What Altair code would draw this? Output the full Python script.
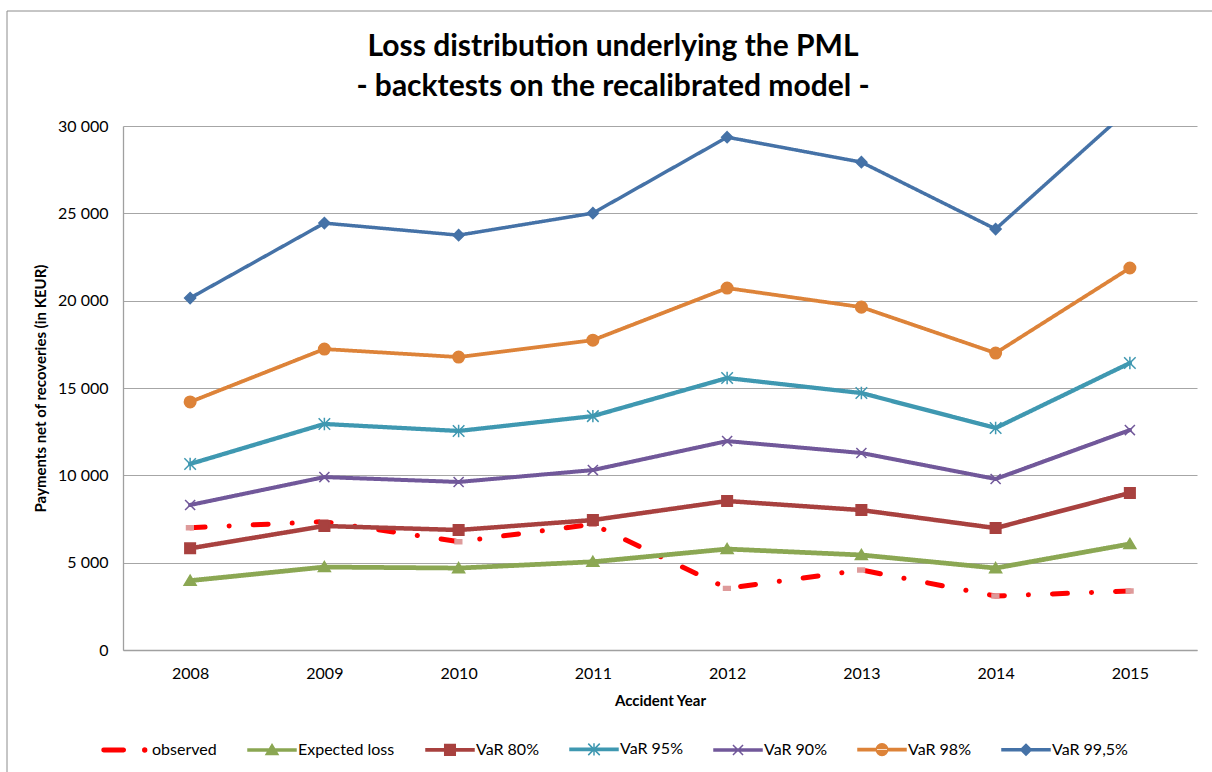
import altair as alt
import pandas as pd

# Accident years and the simulated loss quantiles per year (KEUR)
years = [2008, 2009, 2010, 2011, 2012, 2013, 2014, 2015]
observed = [7000, 7350, 6200, 7200, 3530, 4580, 3090, 3380]
expected_loss = [3970, 4750, 4690, 5050, 5780, 5440, 4690, 6070]
var_80 = [5820, 7100, 6870, 7440, 8530, 8010, 6980, 8990]
var_95 = [10650, 12940, 12540, 13390, 15570, 14710, 12710, 16430]
var_90 = [8300, 9900, 9620, 10300, 11960, 11280, 9790, 12590]
var_98 = [14200, 17230, 16770, 17740, 20720, 19630, 17000, 21870]
var_995 = [20150, 24440, 23750, 25010, 29360, 27930, 24100, 31000]

series_names = ["observed", "Expected loss", "VaR 80%", "VaR 95%",
                "VaR 90%", "VaR 98%", "VaR 99,5%"]
series_values = [observed, expected_loss, var_80, var_95, var_90, var_98, var_995]

line_colors = ["#FF0000", "#8BA753", "#A8413F", "#3F98B1", "#71589A", "#DD8339", "#4572A7"]
marker_fills = ["#DE9B9B", "#8BA753", "#A8413F", "#3F98B1", "#71589A", "#DD8339", "#4572A7"]
line_widths = [5, 3.5, 3.5, 3.5, 3.5, 3.5, 3.5]
dash_patterns = [[15, 24, 0.1, 24], [1, 0], [1, 0], [1, 0], [1, 0], [1, 0], [1, 0]]

# Marker outlines in the unit box [-1, 1]; at size 2304 the box is 48 px wide.
SYMBOL = 2304
markers = [
    "M-0.15,-0.08H0.13V0.08H-0.15Z",
    "M0,-0.23L0.25,0.19H-0.25Z",
    "M-0.22,-0.22H0.22V0.22H-0.22Z",
    "M-0.24,-0.24L0.24,0.24M-0.24,0.24L0.24,-0.24M0,-0.26V0.26",
    "M-0.21,-0.21L0.21,0.21M-0.21,0.21L0.21,-0.21",
    "M-0.24,0A0.24,0.24 0 1,0 0.24,0A0.24,0.24 0 1,0 -0.24,0Z",
    "M0,-0.23L0.23,0L0,0.23L-0.23,0Z",
]

# Legend swatches: a line segment across the whole box with the marker on top.
# The observed series is shown as its dash followed by a dot.
SEGMENT = "M-1,-0.045H1V0.045H-1Z"
legend_paths = [
    "M-0.93,-0.07H-0.1A0.07,0.07 0 0,1 -0.1,0.07H-0.93A0.07,0.07 0 0,1 -0.93,-0.07Z"
    "M0.7,0A0.08,0.08 0 1,0 0.86,0A0.08,0.08 0 1,0 0.7,0Z"
    "M-1,0M1,0",
] + [SEGMENT + m for m in markers[1:]]

rows = []
for name, vals in zip(series_names, series_values):
    for yr, v in zip(years, vals):
        rows.append({"year": yr, "value": v, "series": name})
df = pd.DataFrame(rows)
legend_df = pd.DataFrame({"key": series_names})

FONT = "Lato"

x_enc = alt.X(
    "year:O",
    scale=alt.Scale(type="point", padding=0.5),
    axis=alt.Axis(title="Accident Year", labelAngle=0, ticks=False,
                  labelPadding=15, titlePadding=12, grid=False),
)
y_enc = alt.Y(
    "value:Q",
    scale=alt.Scale(domain=[0, 30000], nice=False, zero=True),
    axis=alt.Axis(title="Payments net of recoveries (in KEUR)",
                  values=[0, 5000, 10000, 15000, 20000, 25000, 30000],
                  labelExpr="replace(format(datum.value, ','), ',', ' ')",
                  ticks=False, labelPadding=15, titlePadding=9, grid=True),
)

base = alt.Chart(df)

lines = base.mark_line(clip=True, strokeCap="round", strokeJoin="round").encode(
    x=x_enc,
    y=y_enc,
    color=alt.Color("series:N", scale=alt.Scale(domain=series_names, range=line_colors),
                    legend=None),
    strokeDash=alt.StrokeDash("series:N",
                              scale=alt.Scale(domain=series_names, range=dash_patterns),
                              legend=None),
    strokeWidth=alt.StrokeWidth("series:N",
                                scale=alt.Scale(domain=series_names, range=line_widths),
                                legend=None),
)

points = base.mark_point(filled=True, size=SYMBOL, strokeWidth=1.5, opacity=1, clip=True).encode(
    x=x_enc,
    y=y_enc,
    shape=alt.Shape("series:N", scale=alt.Scale(domain=series_names, range=markers),
                    legend=None),
    fill=alt.Fill("series:N", scale=alt.Scale(domain=series_names, range=marker_fills),
                  legend=None),
    stroke=alt.Stroke("series:N", scale=alt.Scale(domain=series_names, range=marker_fills),
                      legend=None),
)

# legend: one entry per series, line swatch with its marker
key_legend = alt.Legend(
    orient="none", legendX=-22, legendY=598, direction="horizontal", title=None,
    symbolSize=SYMBOL, symbolStrokeWidth=1.5, symbolOpacity=1,
    labelFont=FONT, labelFontSize=16, labelColor="#000000",
    labelOffset=1, columnPadding=28,
)
legend_colors = ["#FF0000"] + line_colors[1:]
legend_layer = alt.Chart(legend_df).mark_point(filled=True, opacity=0, size=SYMBOL).encode(
    shape=alt.Shape("key:N", sort=series_names,
                    scale=alt.Scale(domain=series_names, range=legend_paths),
                    legend=key_legend),
    fill=alt.Fill("key:N", sort=series_names,
                  scale=alt.Scale(domain=series_names, range=legend_colors),
                  legend=key_legend),
    stroke=alt.Stroke("key:N", sort=series_names,
                      scale=alt.Scale(domain=series_names, range=legend_colors),
                      legend=key_legend),
)

# thin outer frame of the chart area (top and left edges)
frame_data = alt.Data(values=[{}])
frame_top = alt.Chart(frame_data).mark_rule(color="#8C8C8C", strokeWidth=1).encode(
    x=alt.value(-116), x2=alt.value(1100), y=alt.value(-115))
frame_left = alt.Chart(frame_data).mark_rule(color="#8C8C8C", strokeWidth=1).encode(
    x=alt.value(-116), y=alt.value(-115), y2=alt.value(660))

chart = alt.layer(frame_top, frame_left, lines, points, legend_layer).resolve_scale(
    shape="independent", fill="independent", stroke="independent"
).properties(
    width=1074,
    height=524,
    background="white",
    autosize=alt.AutoSizeParams(type="none"),
    padding={"left": 123, "top": 126, "right": 15, "bottom": 122},
    title=alt.TitleParams(
        text=["Loss distribution underlying the PML",
              "- backtests on the recalibrated model -"],
        font=FONT, fontSize=30, fontWeight="bold", color="#000000",
        anchor="middle", dx=-47, offset=-91, lineHeight=40,
    ),
).configure_view(stroke=None).configure_axis(
    labelFont=FONT, labelFontSize=16, labelColor="#000000",
    titleFont=FONT, titleFontSize=15, titleFontWeight="bold", titleColor="#000000",
    domainColor="#A0A0A0", domainWidth=1.3, gridColor="#A6A6A6", gridWidth=1.2,
)

chart.save("out.html", embed_options={"renderer": "svg", "actions": False})
